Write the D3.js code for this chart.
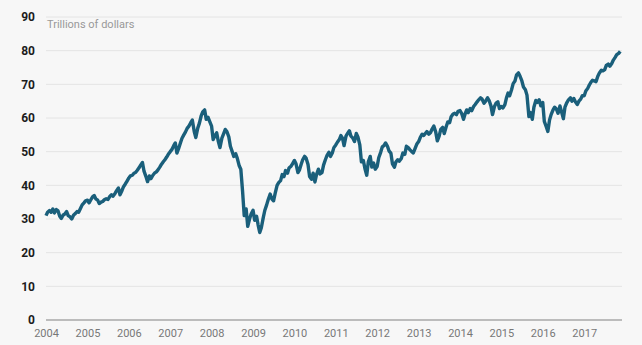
<!DOCTYPE html>
<html>
<head>
<meta charset="utf-8">
<script src="https://cdn.jsdelivr.net/npm/d3@7"></script>
<style>
  body { margin: 0; background: #f7f7f7; }
  svg { display: block; font-family: Roboto, sans-serif; }
</style>
</head>
<body>
<div id="chart"></div>
<script>
// Value readings, twice a month (1st and 15th), trillions of dollars
var years = d3.range(2004, 2018);
var values = [
  // 2004
  31.0, 32.0, 32.5, 32.0, 33.0, 31.8, 32.8, 32.5, 30.8, 30.2, 31.2, 31.5,
  32.2, 31.0, 30.6, 30.0, 31.2, 31.6, 32.2, 32.0, 33.2, 34.2, 34.8, 35.4,
  // 2005
  35.6, 34.8, 35.8, 36.6, 37.0, 36.0, 35.6, 34.6, 35.0, 35.2, 35.8, 36.0,
  35.8, 36.6, 37.2, 36.8, 37.6, 38.4, 39.2, 37.2, 38.4, 39.6, 40.4, 41.2,
  // 2006
  42.2, 42.8, 43.0, 43.6, 43.8, 44.4, 45.2, 46.0, 46.8, 44.2, 42.6, 41.1,
  42.8, 42.0, 43.0, 43.6, 44.0, 44.6, 45.4, 46.2, 47.0, 47.6, 48.4, 49.2,
  // 2007
  50.0, 50.6, 51.8, 52.6, 49.6, 50.8, 52.6, 54.0, 55.0, 55.8, 57.0, 57.6,
  58.6, 59.4, 56.0, 54.2, 57.0, 58.4, 60.6, 61.8, 62.4, 59.6, 60.2, 59.0,
  // 2008
  57.6, 53.6, 54.8, 55.6, 53.0, 51.2, 54.0, 55.2, 56.6, 56.0, 54.4, 51.6,
  50.0, 48.6, 49.4, 48.0, 45.8, 44.8, 38.0, 31.0, 33.0, 27.8, 30.0, 31.5,
  // 2009
  32.6, 29.6, 30.8, 28.2, 26.0, 27.4, 30.4, 32.6, 34.2, 35.8, 37.4, 36.0,
  35.4, 37.6, 40.0, 40.8, 41.4, 43.2, 42.6, 44.4, 43.6, 45.2, 45.6, 46.4,
  // 2010
  47.4, 46.4, 43.8, 44.6, 46.2, 47.6, 48.6, 48.0, 46.2, 42.6, 41.8, 43.6,
  41.0, 43.2, 44.8, 43.4, 43.8, 46.0, 47.6, 48.8, 49.8, 48.6, 49.6, 51.2,
  // 2011
  52.0, 52.8, 53.6, 54.8, 54.0, 51.8, 54.6, 55.4, 56.2, 54.6, 54.0, 53.0,
  55.4, 54.4, 52.0, 47.0, 47.4, 45.0, 43.0, 47.0, 48.6, 45.4, 46.6, 44.8,
  // 2012
  45.6, 48.2, 49.8, 51.4, 51.8, 52.6, 51.6, 50.2, 49.6, 46.4, 45.4, 47.0,
  47.6, 47.2, 48.0, 49.6, 49.2, 51.6, 51.2, 50.6, 50.0, 49.6, 51.0, 52.2,
  // 2013
  53.0, 54.2, 55.2, 54.8, 55.4, 56.0, 55.2, 55.6, 56.8, 57.6, 55.8, 53.2,
  54.6, 56.6, 57.2, 55.4, 57.4, 58.8, 58.6, 60.4, 61.2, 61.4, 61.0, 62.0,
  // 2014
  62.2, 61.4, 59.6, 61.2, 62.4, 61.6, 62.8, 62.2, 63.4, 64.0, 64.8, 65.4,
  66.0, 65.6, 64.4, 65.0, 66.0, 65.2, 63.6, 61.0, 63.4, 64.4, 64.8, 62.8,
  // 2015
  63.4, 63.0, 64.0, 66.0, 67.4, 66.6, 68.4, 70.2, 71.0, 72.8, 73.4, 72.4,
  71.0, 69.2, 68.4, 66.8, 60.4, 61.6, 59.6, 63.2, 65.2, 64.6, 65.4, 63.6,
  // 2016
  64.6, 59.0, 57.4, 56.0, 59.4, 61.0, 62.4, 63.2, 62.6, 61.4, 63.6, 61.8,
  59.8, 63.2, 64.6, 65.4, 66.0, 65.0, 65.8, 64.8, 64.0, 65.0, 65.6, 66.6,
  // 2017
  66.6, 68.0, 68.8, 69.8, 70.6, 71.2, 71.0, 70.8, 72.4, 73.4, 74.2, 74.0,
  74.4, 75.6, 76.0, 75.4, 76.2, 77.2, 78.0, 78.8, 79.2, 79.8
];
var endDate = new Date(2017, 10, 26);
var yTicks = [0, 10, 20, 30, 40, 50, 60, 70, 80, 90];
var unitLabel = 'Trillions of dollars';

var data = values.map(function(v, i) {
  var month = Math.floor(i / 2);
  var day = i % 2 === 0 ? 1 : 15;
  return { date: new Date(2004, month, day), value: v };
});

var width = 642;
var height = 345;
var margin = { top: 17, right: 20, bottom: 25, left: 46 };

var x_scale = d3.scaleTime()
  .domain([new Date(2004, 0, 1), endDate])
  .range([margin.left, width - margin.right - 0.5]);

var y_scale = d3.scaleLinear()
  .domain([0, 90])
  .range([height - margin.bottom, margin.top]);

var svg = d3.select('#chart')
  .append('svg')
  .attr('width', width)
  .attr('height', height);

// Grid lines
svg.append('g')
  .selectAll('line')
  .data(yTicks.slice(1))
  .enter()
  .append('line')
  .attr('x1', margin.left)
  .attr('x2', width - margin.right)
  .attr('y1', function(d) { return y_scale(d); })
  .attr('y2', function(d) { return y_scale(d); })
  .attr('stroke', '#e4e4e4')
  .attr('stroke-width', 1);

// Baseline
svg.append('line')
  .attr('x1', margin.left)
  .attr('x2', width - margin.right)
  .attr('y1', y_scale(0))
  .attr('y2', y_scale(0))
  .attr('stroke', '#bcbcbc')
  .attr('stroke-width', 2);

// Y labels
var y_axis = d3.axisLeft(y_scale)
  .tickValues(yTicks)
  .tickSize(0)
  .tickPadding(11);

svg.append('g')
  .attr('transform', 'translate(' + margin.left + ',0)')
  .call(y_axis)
  .call(function(g) { g.select('.domain').remove(); })
  .selectAll('text')
  .attr('font-family', 'Roboto, sans-serif')
  .attr('font-size', 12)
  .attr('font-weight', 'bold')
  .attr('fill', '#1c1c1c');

// X labels
var x_axis = d3.axisBottom(x_scale)
  .tickValues(years.map(function(y) { return new Date(y, 0, 1); }))
  .tickFormat(d3.timeFormat('%Y'))
  .tickSize(0)
  .tickPadding(9);

svg.append('g')
  .attr('transform', 'translate(0,' + y_scale(0) + ')')
  .call(x_axis)
  .call(function(g) { g.select('.domain').remove(); })
  .selectAll('text')
  .attr('font-family', 'Roboto, sans-serif')
  .attr('font-size', 11)
  .attr('fill', '#777');

// Unit label
svg.append('text')
  .attr('x', margin.left + 1)
  .attr('y', y_scale(90) + 11)
  .attr('font-size', 11)
  .attr('fill', '#999')
  .text(unitLabel);

// Line
var line = d3.line()
  .x(function(d) { return x_scale(d.date); })
  .y(function(d) { return y_scale(d.value); });

svg.append('path')
  .datum(data)
  .attr('d', line)
  .attr('fill', 'none')
  .attr('stroke', '#1a5f7b')
  .attr('stroke-width', 3.4)
  .attr('stroke-linejoin', 'round');
</script>
</body>
</html>
